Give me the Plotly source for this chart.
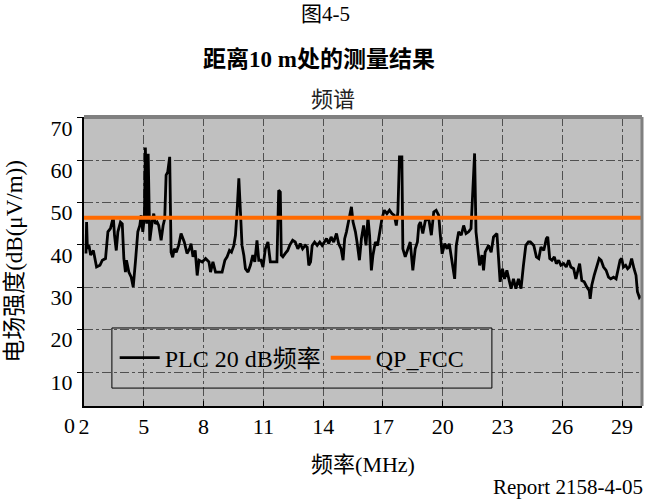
import plotly.graph_objects as go

# ---------------------------------------
# data
# ---------------------------------------

freq_mhz = [
    2.1, 2.13, 2.17, 2.25, 2.33, 2.47, 2.63, 2.8, 2.92, 3.08,
    3.2, 3.33, 3.47, 3.53, 3.62, 3.7, 3.83, 3.92, 4.0, 4.08,
    4.13, 4.25, 4.37, 4.47, 4.58, 4.7, 4.8, 4.87, 4.95, 5.03,
    5.08, 5.15, 5.22, 5.3, 5.42, 5.5, 5.58, 5.67, 5.75, 5.87,
    5.97, 6.05, 6.12, 6.2, 6.3, 6.37, 6.45, 6.53, 6.63, 6.75,
    6.87, 6.95, 7.03, 7.17, 7.3, 7.37, 7.47, 7.58,
    7.68, 7.77, 7.93, 8.1, 8.27, 8.35, 8.47, 8.6, 8.77, 8.93,
    9.07, 9.18, 9.3, 9.4, 9.52, 9.6, 9.68, 9.77, 9.85, 9.93,
    10.02, 10.1, 10.23, 10.35, 10.47, 10.57, 10.68, 10.77, 10.88, 10.98,
    11.1, 11.23, 11.35, 11.52, 11.68, 11.77, 11.85, 11.9, 11.98, 12.1,
    12.22, 12.32, 12.47, 12.6, 12.73, 12.85, 12.97, 13.1,
    13.2, 13.28, 13.37, 13.45, 13.57, 13.7, 13.83, 13.95, 14.07, 14.17,
    14.28, 14.4, 14.53, 14.67, 14.78, 14.9, 15.0, 15.08, 15.17, 15.28,
    15.42, 15.5, 15.62, 15.7, 15.82, 15.92, 16.03, 16.15, 16.25, 16.33,
    16.42, 16.5, 16.62, 16.73, 16.87, 16.95, 17.07, 17.2, 17.33, 17.45,
    17.57, 17.67, 17.75, 17.83, 17.95, 18.0, 18.12, 18.23, 18.37, 18.5,
    18.62, 18.73,
    18.8, 18.88, 19.0, 19.13, 19.3, 19.43, 19.55, 19.67, 19.8, 19.88,
    19.97, 20.1, 20.22, 20.33, 20.47, 20.6, 20.68, 20.8, 20.93, 21.05,
    21.17, 21.3, 21.42, 21.5, 21.6, 21.67, 21.77, 21.85, 21.97, 22.05,
    22.13, 22.3, 22.43, 22.55, 22.72, 22.8, 22.88, 23.0, 23.1, 23.22,
    23.33, 23.43, 23.55, 23.67, 23.8, 23.93, 24.05, 24.17, 24.3,
    24.4, 24.57, 24.7, 24.82, 24.93, 25.07, 25.2, 25.27, 25.37, 25.48,
    25.6, 25.7, 25.82, 25.93, 26.07, 26.2, 26.32, 26.43, 26.57, 26.68,
    26.78, 26.87, 26.98, 27.1, 27.23, 27.35, 27.4, 27.48, 27.6, 27.73,
    27.85, 27.95, 28.07, 28.2, 28.32, 28.43, 28.57, 28.7, 28.82, 28.9,
    28.98, 29.07, 29.18, 29.28, 29.37, 29.48, 29.6, 29.7, 29.77, 29.87,
    29.95,
]

level_dbuv = [
    38.0, 45.4, 39.1, 39.9, 37.6, 38.7, 34.8, 35.2, 36.4, 36.8,
    43.1, 43.9, 46.6, 42.3, 38.7, 43.1, 45.4, 45.0, 36.8, 33.6,
    36.4, 33.6, 32.4, 30.1, 36.0, 43.1, 44.6, 47.0, 43.1, 46.6,
    63.0, 45.0, 61.5, 41.0, 45.4, 47.4, 45.0, 45.4, 44.6, 41.1,
    44.6, 46.2, 56.5, 57.2, 60.8, 38.3, 37.1, 39.1, 38.3, 39.9,
    42.7, 41.9, 40.7, 38.0, 39.1, 40.3, 37.2, 38.7,
    32.8, 36.4, 36.0, 36.8, 36.0, 33.6, 36.0, 33.6, 33.6, 33.6,
    36.4, 37.2, 38.7, 38.3, 39.9, 42.3, 47.8, 55.7, 47.8, 39.9,
    37.6, 34.4, 33.6, 35.2, 37.6, 36.0, 41.1, 36.4, 36.4, 34.8,
    39.1, 40.7, 36.0, 36.0, 36.0, 52.9, 52.5, 37.6, 37.2, 38.0,
    38.7, 39.9, 41.1, 40.7, 39.1, 40.3, 39.1, 39.9,
    39.5, 35.2, 36.0, 39.9, 40.7, 39.9, 40.7, 39.9, 40.7, 41.5,
    40.3, 41.9, 40.7, 42.7, 40.3, 39.1, 36.4, 41.5, 43.1, 45.8,
    49.0, 45.4, 43.1, 40.7, 36.4, 41.5, 44.6, 39.9, 46.6, 42.3,
    34.0, 37.6, 40.7, 39.9, 44.6, 46.2, 48.2, 47.4, 48.2, 47.4,
    47.0, 44.6, 47.8, 60.8, 60.8, 39.1, 37.2, 38.7, 40.7, 34.0,
    39.1, 40.7,
    44.6, 45.4, 42.7, 45.8, 46.2, 42.3, 47.8, 48.2, 47.0, 42.3,
    37.9, 40.3, 39.1, 40.3, 36.0, 32.0, 39.9, 43.1, 42.3, 44.6,
    42.7, 43.1, 43.9, 50.5, 61.6, 43.1, 37.6, 35.2, 37.6, 34.0,
    38.3, 39.9, 38.3, 41.9, 42.7, 37.6, 31.3, 34.4, 32.0, 34.0,
    31.3, 29.7, 32.0, 29.7, 32.0, 29.7, 35.2, 39.9, 40.7,
    40.7, 39.9, 37.2, 36.8, 39.5, 38.7, 41.5, 41.9, 36.8, 36.4,
    37.2, 35.6, 36.4, 35.2, 35.6, 34.8, 36.4, 34.8, 34.4, 32.0,
    33.6, 35.6, 31.6, 31.3, 30.1, 29.3, 27.3, 30.5, 32.8, 35.2,
    36.8, 36.4, 34.8, 34.0, 32.4, 32.0, 32.4, 32.0, 34.4, 36.4,
    36.8, 34.8, 35.2, 34.4, 34.8, 36.8, 34.4, 32.8, 29.0, 27.6,
    28.0,
]

qp_freq = [2, 30]
qp_level = [46.4, 46.4]

x_ticks = [2, 5, 8, 11, 14, 17, 20, 23, 26, 29]
y_ticks = [10, 20, 30, 40, 50, 60, 70]

FONT = "Liberation Serif, Noto Sans CJK SC, serif"


# ---------------------------------------
# figure
# ---------------------------------------

fig = go.Figure()

fig.add_trace(go.Scatter(
    x=freq_mhz,
    y=level_dbuv,
    mode="lines",
    name="PLC 20 dB频率",
    line=dict(color="black", width=2.8)
))

fig.add_trace(go.Scatter(
    x=qp_freq,
    y=qp_level,
    mode="lines",
    name="QP_FCC",
    line=dict(color="#ff6a00", width=4)
))

fig.update_layout(

    width=649,

    height=499,

    margin=dict(l=84, r=7, t=117, b=93),

    paper_bgcolor="white",

    plot_bgcolor="#c0c0c0",

    font=dict(family=FONT, size=20, color="black"),

    showlegend=True,

    legend=dict(
        orientation="h",
        x=0.055,
        y=0.166,
        xanchor="left",
        yanchor="middle",
        bgcolor="rgba(0,0,0,0)",
        borderwidth=0,
        font=dict(family=FONT, size=24),
        itemwidth=40
    ),

    xaxis=dict(
        range=[2, 30],
        tickvals=x_ticks,
        ticks="inside",
        ticklen=5,
        tickcolor="black",
        showline=True,
        linecolor="black",
        linewidth=2,
        showgrid=True,
        gridcolor="#505050",
        griddash="dashdot",
        gridwidth=1,
        zeroline=False,
        tickfont=dict(size=22),
        title=dict(text="频率(MHz)", font=dict(size=22), standoff=18)
    ),

    yaxis=dict(
        range=[2, 70.2],
        tickvals=y_ticks,
        ticks="outside",
        ticklen=5,
        tickcolor="black",
        ticklabelshift=10,
        showline=True,
        linecolor="black",
        linewidth=2,
        showgrid=True,
        gridcolor="#505050",
        griddash="dashdot",
        gridwidth=1,
        zeroline=False,
        tickfont=dict(size=22),
        title=dict(text="电场强度(dB(μV/m))", font=dict(size=23), standoff=22)
    )
)

# grey frame on top and right, legend box
fig.add_shape(type="line", xref="paper", yref="paper",
              x0=0, x1=1, y0=1, y1=1, line=dict(color="#808080", width=4))
fig.add_shape(type="line", xref="paper", yref="paper",
              x0=1, x1=1, y0=0, y1=1, line=dict(color="#808080", width=3))
fig.add_shape(type="rect", xref="paper", yref="paper",
              x0=0.05, x1=0.731, y0=0.062, y1=0.27,
              line=dict(color="black", width=1))

# titles and notes
fig.add_annotation(text="图4-5", xref="paper", yref="paper", x=0.432, y=1.356,
                   yanchor="middle", showarrow=False, font=dict(size=21))
fig.add_annotation(text="<b>距离10 m处的测量结果</b>", xref="paper", yref="paper",
                   x=0.421, y=1.2, yanchor="middle", showarrow=False,
                   font=dict(size=23))
fig.add_annotation(text="频谱", xref="paper", yref="paper", x=0.446, y=1.059,
                   yanchor="middle", showarrow=False,
                   font=dict(size=22, color="#222222"))
fig.add_annotation(text="0", xref="paper", yref="paper", x=-0.039, y=-0.066,
                   yanchor="middle", showarrow=False, font=dict(size=22))
fig.add_annotation(text="Report 2158-4-05", xref="paper", yref="paper",
                   x=1.005, y=-0.28, xanchor="right", yanchor="middle",
                   showarrow=False, font=dict(size=21))

# drop the default 8px page margin so the figure fills the window exactly
fig.write_html("out.html", config={"displayModeBar": False},
               post_script="document.body.style.margin = '0';")
